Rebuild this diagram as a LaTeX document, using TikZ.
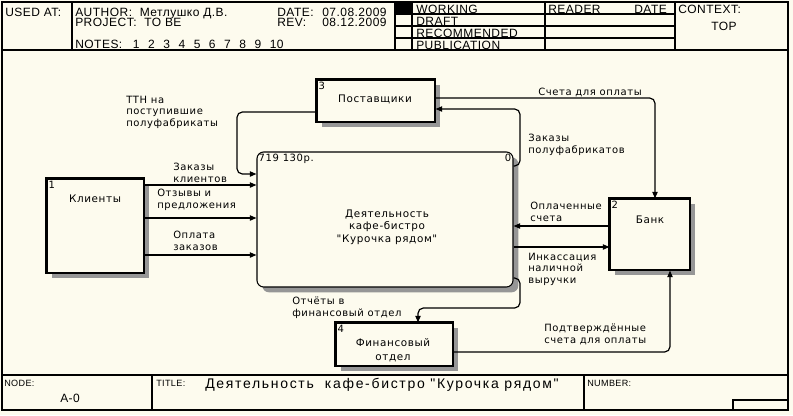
\documentclass[tikz,border=0pt]{standalone}
\usepackage{fontspec}
\setmainfont{Liberation Sans}
\newfontfamily\hdrfont[LetterSpace=4]{Liberation Sans}
\newfontfamily\ttlfont[LetterSpace=12]{Liberation Sans}
\newfontfamily\lblfont[LetterSpace=6]{DejaVu Sans}
\usetikzlibrary{arrows.meta,shadows}
\definecolor{paper}{RGB}{253,251,238}
\definecolor{shade}{RGB}{150,150,150}

\begin{document}
\begin{tikzpicture}[x=0.75pt,y=-0.75pt,
    func/.style={rectangle,draw,line width=0.8pt,fill=paper,inner sep=0pt,
        general shadow={fill=shade,shadow xshift=4pt,shadow yshift=-4pt}},
    edgeline/.style={line width=2.2pt},
    flow/.style={draw,line width=0.9pt,rounded corners=4pt,
        -{Triangle[length=5pt,width=4pt]}},
    lbl/.style={anchor=base west,align=left,inner sep=0pt,
        font=\lblfont\fontsize{7.5}{8.3}\selectfont},
    boxtext/.style={anchor=base,align=center,inner sep=0pt,
        font=\lblfont\fontsize{7.8}{9.2}\selectfont},
    num/.style={anchor=north west,inner sep=1.5pt,
        font=\lblfont\fontsize{7.5}{8}\selectfont},
    hdr/.style={anchor=base west,inner sep=0pt,
        font=\hdrfont\fontsize{9}{10}\selectfont},
    small/.style={anchor=base west,inner sep=0pt,
        font=\hdrfont\fontsize{6.8}{8}\selectfont},
    frame/.style={line width=1pt}]

    \fill[paper] (0,0) rectangle (793,415);
    \useasboundingbox (0,0) rectangle (793,415);

    % form frame
    \draw[frame] (2,2) rectangle (788,410);
    \draw[frame] (2,50) -- (788,50);
    \draw[frame] (2,375) -- (788,375);
    \draw[frame] (72,2) -- (72,50);
    \draw[frame] (395,2) -- (395,50);
    \draw[frame] (412,2) -- (412,50);
    \draw[frame] (545,2) -- (545,50);
    \draw[frame] (675,2) -- (675,50);
    \foreach \y in {14,26,38}
        \draw[frame] (395,\y) -- (675,\y);
    \fill (395,2) rectangle (412,14);
    \draw[frame] (152,375) -- (152,410);
    \draw[frame] (584,375) -- (584,410);
    \draw[frame] (733,410) -- (733,400) -- (788,400);

    % header texts
    \node[hdr] (usedat) at (5,16) {USED AT:};
    \node[hdr] (author) at (75,16) {AUTHOR:\ \ Метлушко Д.В.};
    \node[hdr] (project) at (75,26) {PROJECT:\ \ TO BE};
    \node[hdr] (notes) at (75,48) {NOTES:};
    \foreach \n [count=\i] in {1,...,10}
        \node[hdr] (note\n) at (117.5+15.2*\i,48) {\n};
    \node[hdr] (date) at (277,16) {DATE:};
    \node[hdr] (dateval) at (322,16) {07.08.2009};
    \node[hdr] (rev) at (277,26) {REV:};
    \node[hdr] (revval) at (322,26) {08.12.2009};
    \node[hdr] (working) at (416,13) {WORKING};
    \node[hdr] (draft) at (416,25) {DRAFT};
    \node[hdr] (recom) at (416,37) {RECOMMENDED};
    \node[hdr] (publ) at (416,49) {PUBLICATION};
    \node[hdr] (reader) at (548,13) {READER};
    \node[hdr] (rdate) at (634,13) {DATE};
    \node[hdr] (context) at (678,13) {CONTEXT:};
    \node[hdr] (top) at (711,30) {TOP};

    % footer texts
    \node[small] (nodettl) at (4,386) {NODE:};
    \node[hdr] (nodeval) at (60,402) {A-0};
    \node[small] (titlettl) at (156,386) {TITLE:};
    \node[hdr,font=\ttlfont\fontsize{10.5}{11}\selectfont] (title) at (205,388)
        {Деятельность\ \ кафе-бистро "Курочка рядом"};
    \node[small] (numttl) at (587,386) {NUMBER:};

    % activity boxes
    \begin{scope}[every node/.append style={func}]
        \node[rounded corners=5pt,minimum width=192pt,minimum height=101.25pt]
            (main) at (385,219.5) {};
        \node[minimum width=72.75pt,minimum height=70.5pt] (kl) at (95.5,226) {};
        \node[minimum width=88.5pt,minimum height=31.5pt] (post) at (376,101) {};
        \node[minimum width=60pt,minimum height=53.25pt] (bank) at (650,234.5) {};
        \node[minimum width=87.75pt,minimum height=32.25pt] (fin) at (394.5,344.5) {};
    \end{scope}
    \foreach \b in {kl,post,bank,fin}
        \draw[edgeline] (\b.south west) -- (\b.north west) -- (\b.north east);

    \node[num] at (main.north west) {719 130р.};
    \node[num,anchor=north east] at (main.north east) {0};
    \node[num] at (kl.north west) {1};
    \node[num] at (bank.north west) {2};
    \node[num] at (post.north west) {3};
    \node[num] at (fin.north west) {4};

    \node[boxtext] (maintxt) at (387,242) {Деятельность\\кафе-бистро\\ "Курочка рядом"};
    \node[boxtext] (kltxt) at (95,202) {Клиенты};
    \node[boxtext] (posttxt) at (375,102) {Поставщики};
    \node[boxtext] (banktxt) at (650,223) {Банк};
    \node[boxtext,font=\lblfont\fontsize{7.8}{10.5}\selectfont] (fintxt) at (393,360)
        {Финансовый\\отдел};

    % arrows
    \draw[flow] (kl.east |- 0,185) -- (main.west |- 0,185);
    \draw[flow] (kl.east |- 0,218) -- (main.west |- 0,218);
    \draw[flow] (kl.east |- 0,255) -- (main.west |- 0,255);
    \draw[flow] (post.west |- 0,112) -- (237,112) -- (237,174) -- (main.west |- 0,174);
    \draw[flow] (main.east |- 0,166) -- (520,166) -- (520,109) -- (post.east |- 0,109);
    \draw[flow] (post.east |- 0,98) -- (655,98) -- (bank.north -| 655,0);
    \draw[flow] (bank.west |- 0,226) -- (main.east |- 0,226);
    \draw[flow] (main.east |- 0,247) -- (bank.west |- 0,247);
    \draw[flow] (main.east |- 0,278) -- (520,278) -- (520,308) -- (418,308) -- (fin.north -| 418,0);
    \draw[flow] (fin.east |- 0,352) -- (670,352) -- (bank.south -| 670,0);

    % arrow labels (anchored on the last line)
    \node[lbl] (l1) at (173,182) {Заказы\\клиентов};
    \node[lbl] (l2) at (157,208) {Отзывы и\\предложения};
    \node[lbl] (l3) at (173,250) {Оплата\\заказов};
    \node[lbl] (l4) at (126,126) {ТТН на\\поступившие\\полуфабрикаты};
    \node[lbl] (l5) at (528,153) {Заказы\\полуфабрикатов};
    \node[lbl] (l6) at (538,95) {Счета для оплаты};
    \node[lbl] (l7) at (530,221) {Оплаченные\\счета};
    \node[lbl] (l8) at (528,283) {Инкассация\\наличной\\выручки};
    \node[lbl] (l9) at (292,316) {Отчёты в\\финансовый отдел};
    \node[lbl] (l10) at (544,343) {Подтверждённые\\счета для оплаты};
\end{tikzpicture}
\end{document}
